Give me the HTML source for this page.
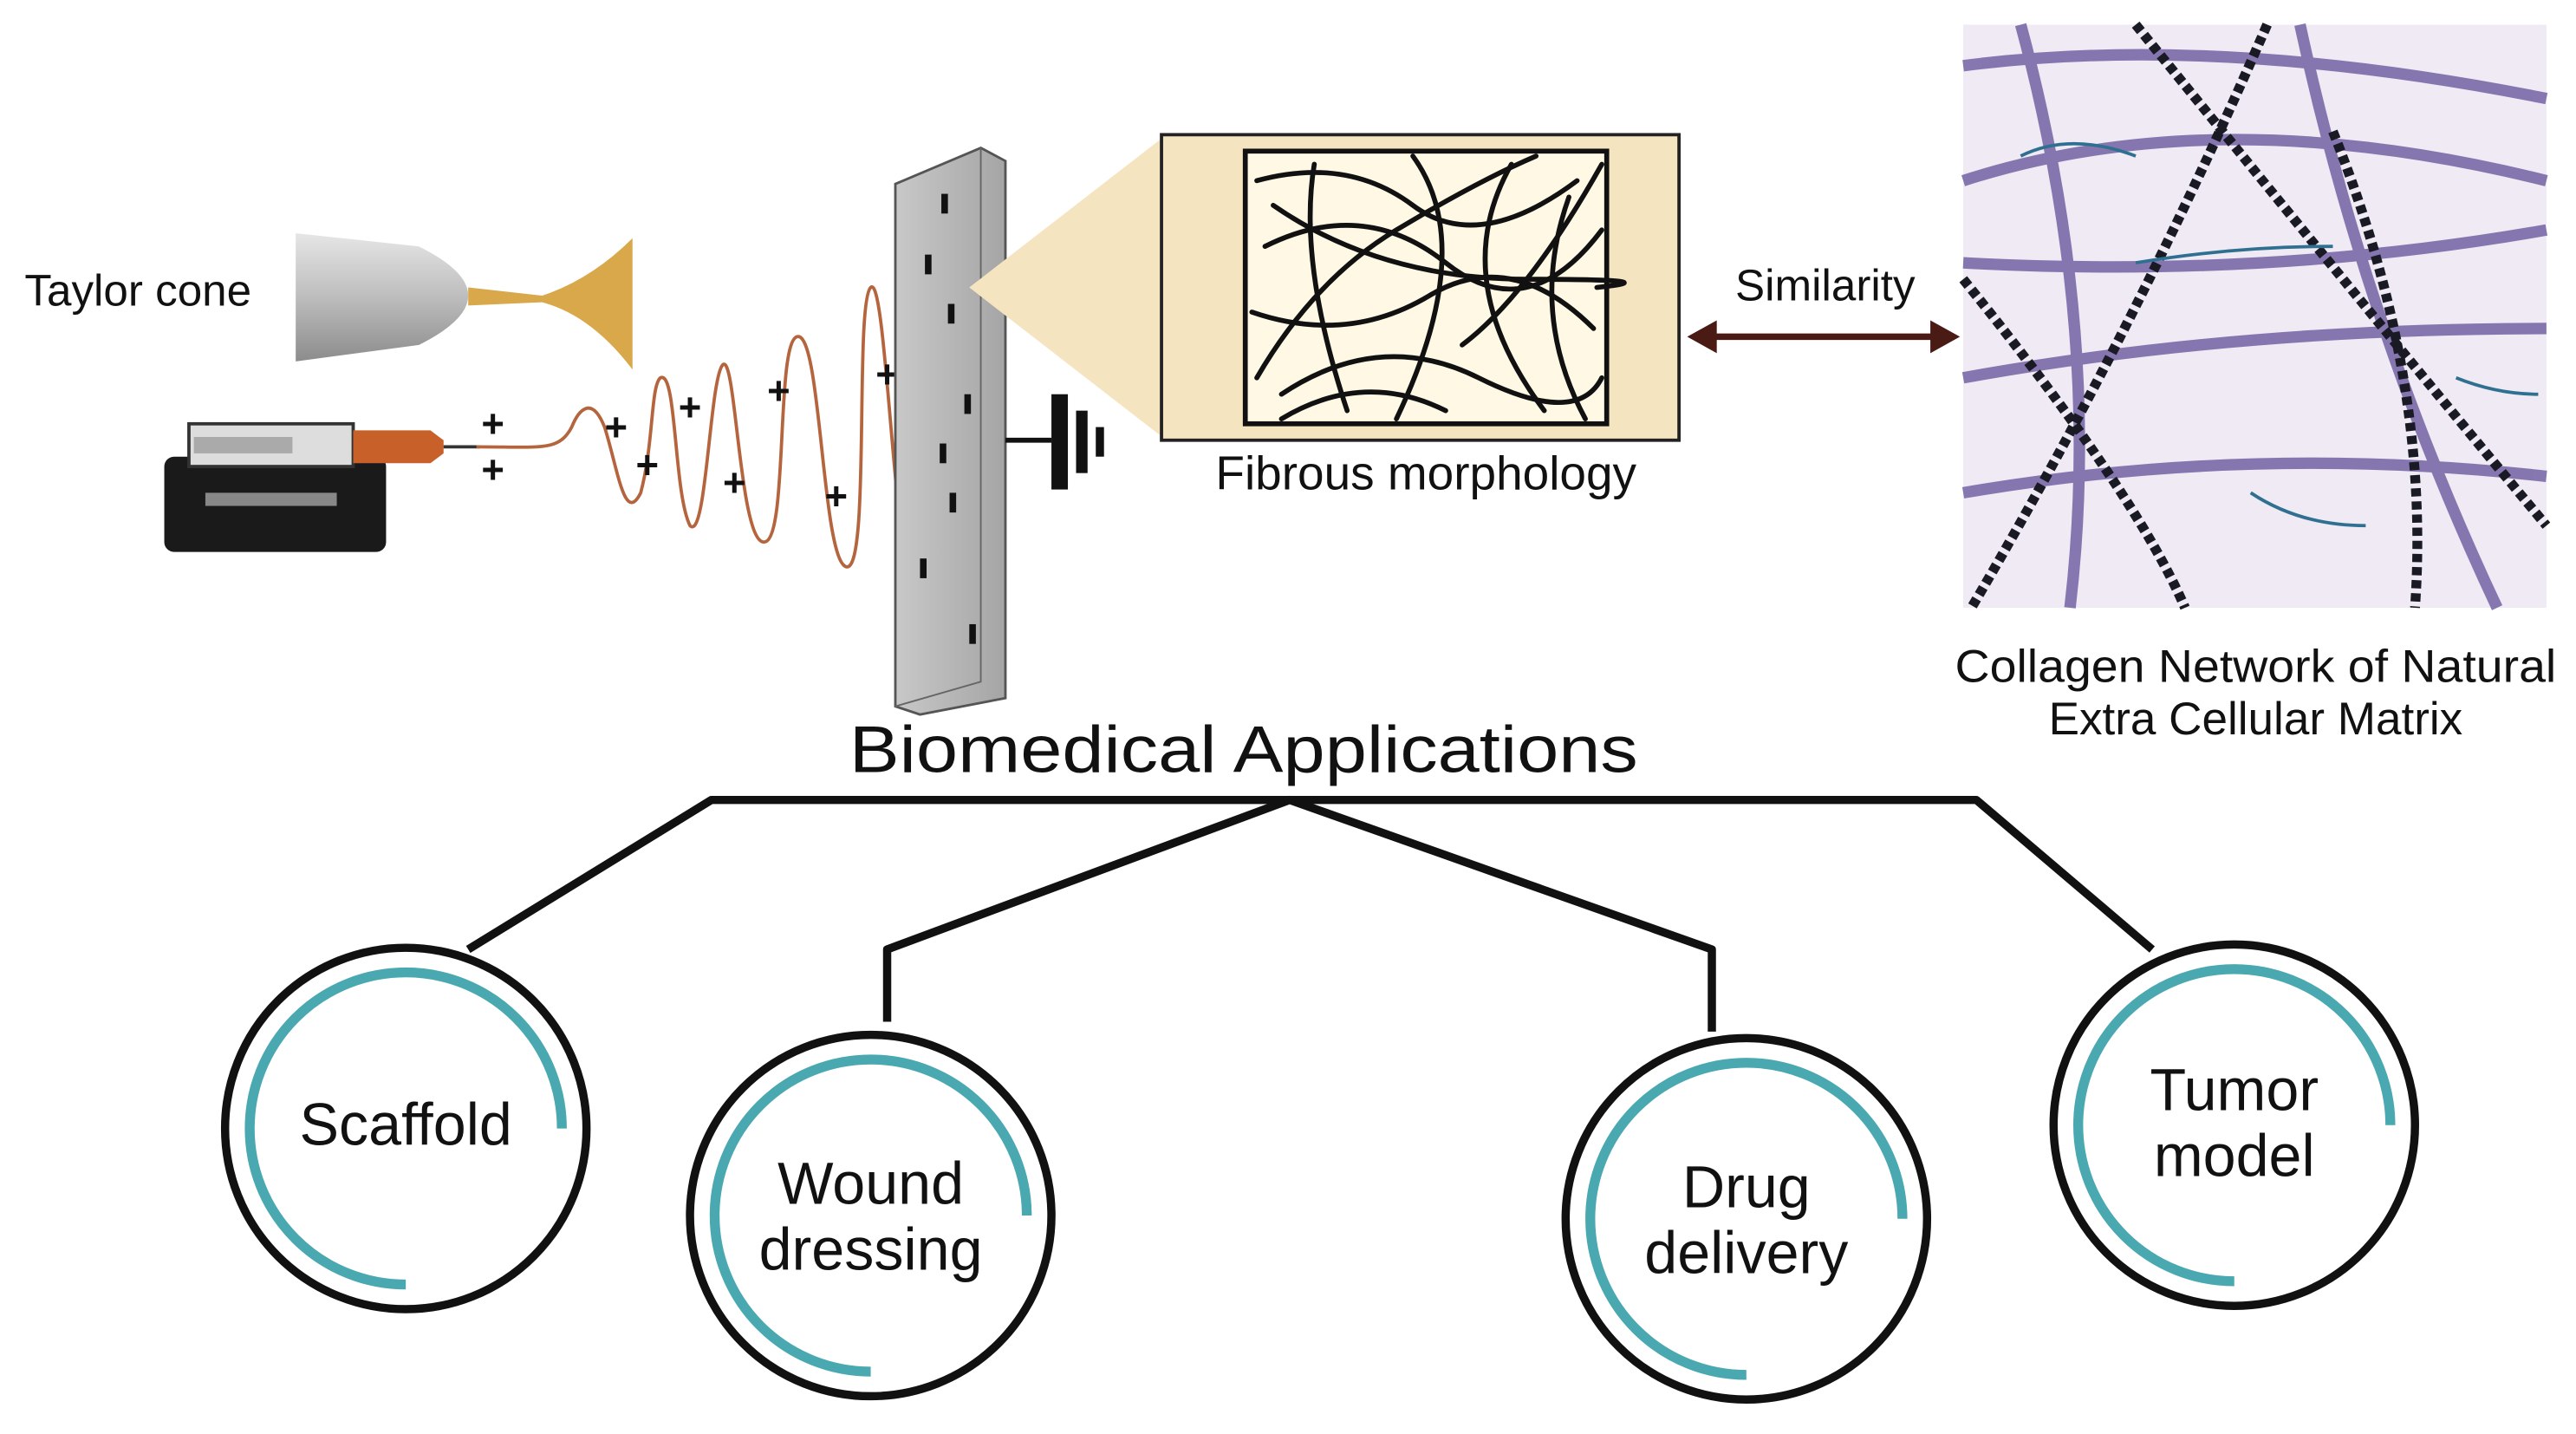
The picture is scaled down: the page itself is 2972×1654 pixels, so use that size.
<!DOCTYPE html>
<html><head><meta charset="utf-8"><style>
html,body{margin:0;padding:0;background:#fff;}
svg{display:block;}
text{font-family:"Liberation Sans",sans-serif;fill:#111;}
</style></head><body>
<svg width="2972" height="1654" viewBox="0 0 1568 873" preserveAspectRatio="none" xmlns="http://www.w3.org/2000/svg">
<defs>
<linearGradient id="noz" x1="0" y1="0" x2="0" y2="1"><stop offset="0" stop-color="#e6e6e6"/><stop offset="0.5" stop-color="#bdbdbd"/><stop offset="1" stop-color="#8c8c8c"/></linearGradient>
<linearGradient id="plate" x1="0" y1="0" x2="1" y2="0"><stop offset="0" stop-color="#c8c8c8"/><stop offset="1" stop-color="#a5a5a5"/></linearGradient>
</defs>
<!-- Taylor cone -->
<text x="15" y="186" font-size="27" font-weight="500">Taylor cone</text>
<path d="M180,142 L255,150 Q285,165 285,180 Q285,195 255,210 L180,220 Z" fill="url(#noz)"/>
<path d="M285,175 L330,180 Q360,170 385,145 L385,225 Q360,192 330,184 L285,186 Z" fill="#d9a84a"/>
<!-- syringe pump -->
<rect x="100" y="278" width="135" height="58" rx="6" fill="#1a1a1a"/>
<rect x="125" y="300" width="80" height="8" fill="#888"/>
<rect x="115" y="258" width="100" height="26" fill="#ddd" stroke="#333" stroke-width="2"/>
<rect x="118" y="266" width="60" height="10" fill="#aaa"/>
<path d="M215,262 L262,262 L270,268 L270,276 L262,282 L215,282 Z" fill="#c8602a"/>
<line x1="270" y1="272" x2="292" y2="272" stroke="#333" stroke-width="2"/>
<!-- spiral jet -->
<path d="M290,272 C330,272 340,275 348,260 C352,250 360,240 368,260 C376,285 380,320 390,300 C398,270 396,235 402,230 C412,225 410,300 420,320 C430,330 432,230 440,222 C448,215 450,330 465,330 C480,330 472,210 485,205 C500,200 500,340 515,345 C530,350 520,185 530,175 C540,165 545,370 560,375 C575,380 585,300 580,240 C576,185 570,150 565,180" fill="none" stroke="#b5653e" stroke-width="2"/>
<g font-size="24" font-weight="bold" fill="#111">
<text x="293" y="266">+</text><text x="293" y="294">+</text><text x="368" y="268">+</text><text x="387" y="291">+</text>
<text x="413" y="256">+</text><text x="440" y="302">+</text><text x="467" y="246">+</text><text x="502" y="310">+</text><text x="533" y="236">+</text>
</g>
<!-- collector plate -->
<path d="M545,112 L597,90 L612,98 L612,425 L560,435 L545,430 Z" fill="url(#plate)" stroke="#555" stroke-width="1.5"/>
<path d="M597,90 L597,415 L545,430" fill="none" stroke="#666" stroke-width="1"/>
<g fill="#111">
<rect x="573" y="118" width="4" height="12"/><rect x="563" y="155" width="4" height="12"/><rect x="577" y="185" width="4" height="12"/>
<rect x="587" y="240" width="4" height="12"/><rect x="572" y="270" width="4" height="12"/><rect x="578" y="300" width="4" height="12"/>
<rect x="560" y="340" width="4" height="12"/><rect x="590" y="380" width="4" height="12"/>
</g>
<!-- ground -->
<line x1="612" y1="268" x2="640" y2="268" stroke="#111" stroke-width="3"/>
<rect x="640" y="240" width="10" height="58" fill="#111"/>
<rect x="655" y="250" width="7" height="38" fill="#111"/>
<rect x="667" y="260" width="5" height="18" fill="#111"/>
<!-- magnify -->
<path d="M590,175 L710,82 L710,268 Z" fill="#f5e4c0"/>
<rect x="707" y="82" width="315" height="186" fill="#f5e4c0" stroke="#222" stroke-width="2"/>
<rect x="758" y="92" width="220" height="166" fill="#fff8e4" stroke="#111" stroke-width="3"/>
<g fill="none" stroke="#111" stroke-width="3" stroke-linecap="round">
<path d="M765,110 Q820,95 860,125 T960,110"/>
<path d="M770,150 Q830,120 880,160 T975,140"/>
<path d="M762,190 Q820,210 870,180 T970,200"/>
<path d="M780,240 Q840,200 900,230 T975,230"/>
<path d="M800,100 Q790,160 820,250"/>
<path d="M860,95 Q900,150 850,255"/>
<path d="M920,100 Q880,170 940,250"/>
<path d="M955,120 Q930,190 965,255"/>
<path d="M765,230 Q800,170 850,140 T935,95"/>
<path d="M775,125 Q840,170 930,170 T972,175"/>
<path d="M780,255 Q830,225 880,250"/>
<path d="M890,210 Q930,180 975,100"/>
</g>
<text x="868" y="298" font-size="29" text-anchor="middle">Fibrous morphology</text>
<!-- similarity -->
<text x="1111" y="183" font-size="27" text-anchor="middle">Similarity</text>
<line x1="1040" y1="205" x2="1180" y2="205" stroke="#4a1a14" stroke-width="4"/>
<path d="M1027,205 L1045,195 L1045,215 Z" fill="#4a1a14"/>
<path d="M1193,205 L1175,195 L1175,215 Z" fill="#4a1a14"/>
<!-- collagen -->
<rect x="1195" y="15" width="355" height="355" fill="#efeaf4"/>
<g fill="none" stroke="#7a6aa8" stroke-width="7" opacity="0.9">
<path d="M1195,40 Q1350,20 1550,60"/>
<path d="M1195,110 Q1350,60 1550,110"/>
<path d="M1195,160 Q1380,170 1550,140"/>
<path d="M1195,230 Q1360,200 1550,200"/>
<path d="M1195,300 Q1370,270 1550,290"/>
<path d="M1230,15 Q1280,200 1260,370"/>
<path d="M1400,15 Q1440,200 1520,370"/>
</g>
<g fill="none" stroke="#1a1a24" stroke-width="6" stroke-dasharray="5,3">
<path d="M1380,15 Q1300,200 1200,370"/>
<path d="M1300,15 Q1450,200 1550,320"/>
<path d="M1420,80 Q1480,230 1470,370"/>
<path d="M1195,170 Q1300,300 1330,370"/>
</g>
<g fill="none" stroke="#2f7090" stroke-width="2">
<path d="M1230,95 Q1260,80 1300,95"/><path d="M1300,160 Q1360,150 1420,150"/><path d="M1370,300 Q1400,320 1440,320"/><path d="M1495,230 Q1520,240 1545,240"/>
</g>
<text x="1373" y="415" font-size="28" text-anchor="middle" textLength="366" lengthAdjust="spacingAndGlyphs">Collagen Network of Natural</text>
<text x="1373" y="447" font-size="28" text-anchor="middle">Extra Cellular Matrix</text>
<!-- tree -->
<text x="757" y="470" font-size="40" text-anchor="middle" textLength="480" lengthAdjust="spacingAndGlyphs">Biomedical Applications</text>
<g fill="none" stroke="#111" stroke-width="5" stroke-linejoin="round">
<path d="M285,578 L433,487 L1203,487 L1310,578"/>
<path d="M540,622 L540,578 L785,487 L1042,578 L1042,628"/>
</g>
<!-- circles -->
<g fill="#fff" stroke="#111" stroke-width="5">
<circle cx="247" cy="687" r="110"/><circle cx="530" cy="740" r="110"/>
<circle cx="1063" cy="742" r="110"/><circle cx="1360" cy="685" r="110"/>
</g>
<g fill="none" stroke="#4aa8b0" stroke-width="6">
<path d="M342,687 A95,95 0 1 0 247,782" />
<path d="M625,740 A95,95 0 1 0 530,835" />
<path d="M1158,742 A95,95 0 1 0 1063,837" />
<path d="M1455,685 A95,95 0 1 0 1360,780" />
</g>
<g font-size="36" text-anchor="middle">
<text x="247" y="697">Scaffold</text>
<text x="530" y="733">Wound</text><text x="530" y="773">dressing</text>
<text x="1063" y="735">Drug</text><text x="1063" y="775">delivery</text>
<text x="1360" y="676">Tumor</text><text x="1360" y="716">model</text>
</g>
</svg>
</body></html>
